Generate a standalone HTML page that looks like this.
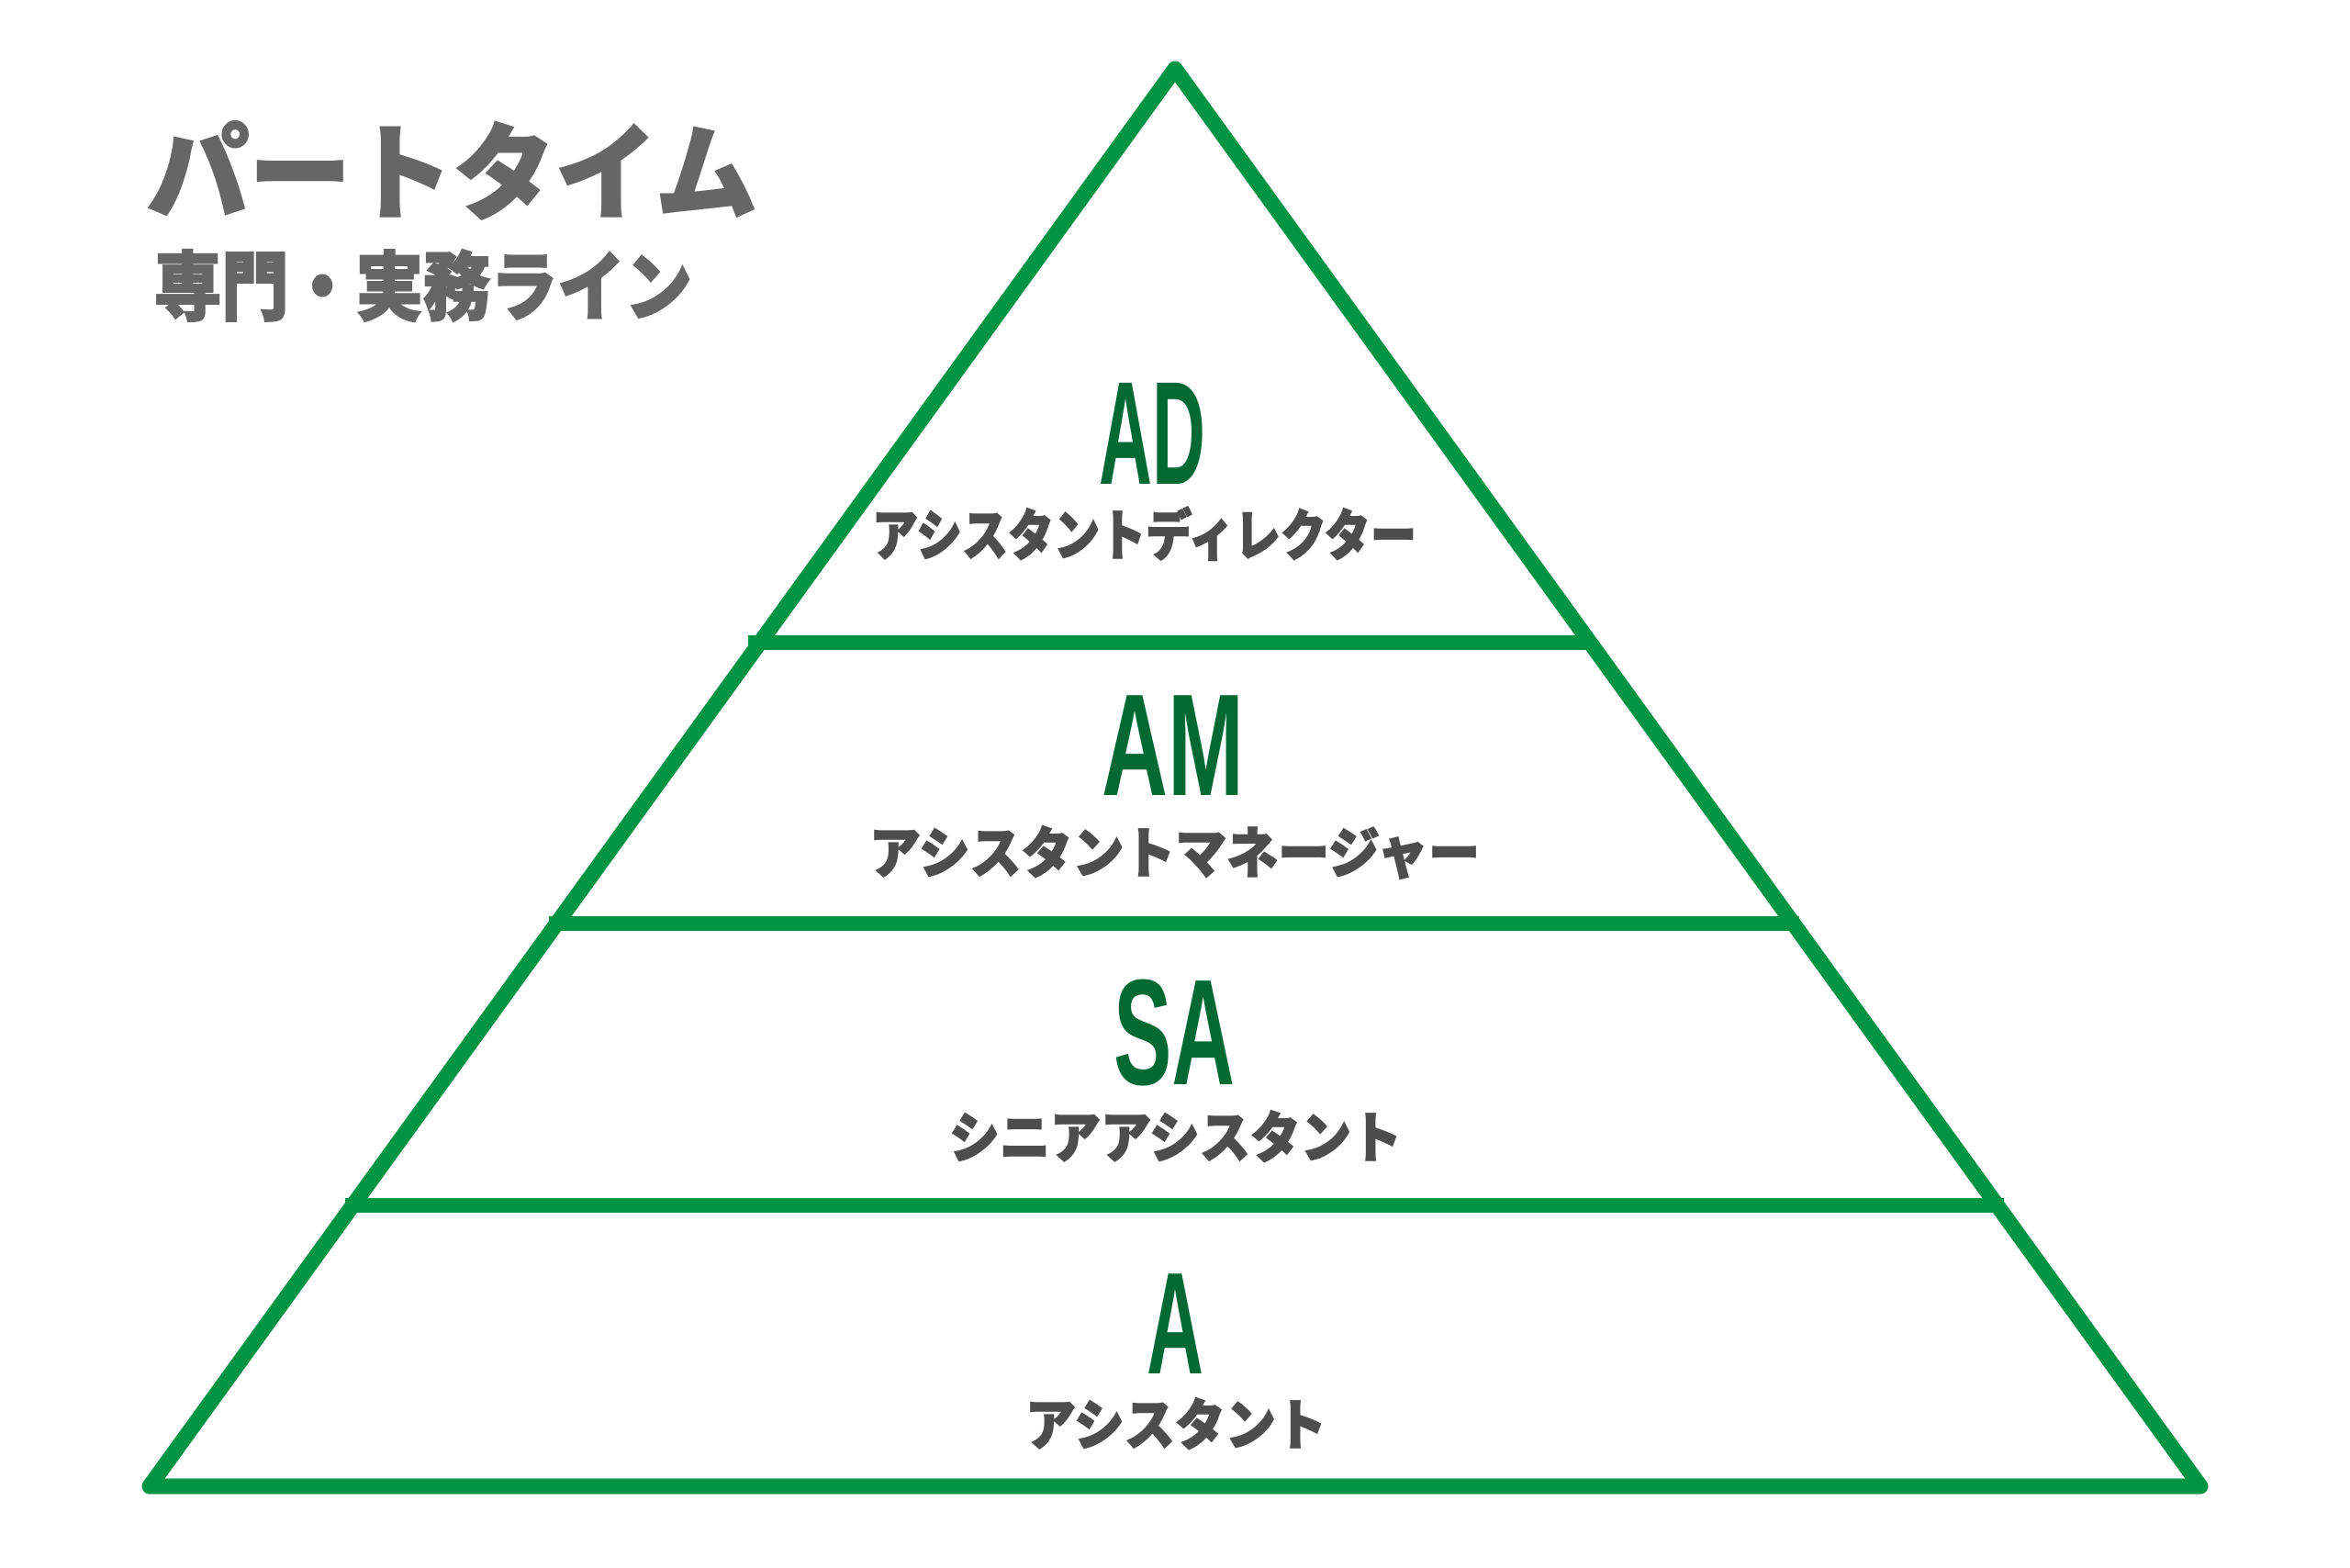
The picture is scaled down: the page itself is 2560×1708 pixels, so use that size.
<!DOCTYPE html>
<html><head><meta charset="utf-8"><style>
html,body{margin:0;padding:0;background:#fff;width:2560px;height:1708px;overflow:hidden}
svg{display:block}
.l{font-family:"Liberation Sans Narrow","Liberation Sans",sans-serif;font-weight:700;fill:#006934}
.k{font-family:"Liberation Sans","Noto Sans CJK JP",sans-serif;font-weight:900;fill:#4d4d4d;font-size:60px;stroke:#4d4d4d;stroke-width:1.5px}
.t{font-family:"Liberation Sans","Noto Sans CJK JP",sans-serif;font-weight:900;fill:#666;stroke:#666;stroke-width:2px}
</style></head><body>
<svg width="2560" height="1708" viewBox="0 0 2560 1708">
<path d="M1280 75 L2397 1619 L163 1619 Z" fill="none" stroke="#009444" stroke-width="17" stroke-linejoin="round"/>
<line x1="815" y1="700" x2="1736" y2="700" stroke="#009444" stroke-width="16"/>
<line x1="598" y1="1006" x2="1960" y2="1006" stroke="#009444" stroke-width="16"/>
<line x1="376" y1="1313" x2="2183" y2="1313" stroke="#009444" stroke-width="16"/>

<text class="t" x="160" y="230" font-size="114" textLength="665" lengthAdjust="spacingAndGlyphs">パートタイム</text>
<text class="t" x="168" y="342" font-size="82" textLength="586" lengthAdjust="spacingAndGlyphs">専門・実務ライン</text>

<text class="l" x="1197" y="527" font-size="160" textLength="116" lengthAdjust="spacingAndGlyphs">AD</text>
<text class="k" x="950" y="605" textLength="593" lengthAdjust="spacingAndGlyphs">アシスタントディレクター</text>

<text class="l" x="1200" y="866" font-size="158" textLength="155" lengthAdjust="spacingAndGlyphs">AM</text>
<text class="k" x="947" y="951" textLength="665" lengthAdjust="spacingAndGlyphs">アシスタントマネージャー</text>

<text class="l" x="1213" y="1181" font-size="164" textLength="132" lengthAdjust="spacingAndGlyphs">SA</text>
<text class="k" x="1034" y="1261" textLength="493" lengthAdjust="spacingAndGlyphs">シニアアシスタント</text>

<text class="l" x="1249" y="1496" font-size="158" textLength="62" lengthAdjust="spacingAndGlyphs">A</text>
<text class="k" x="1117" y="1574" textLength="328" lengthAdjust="spacingAndGlyphs">アシスタント</text>
</svg>
</body></html>
